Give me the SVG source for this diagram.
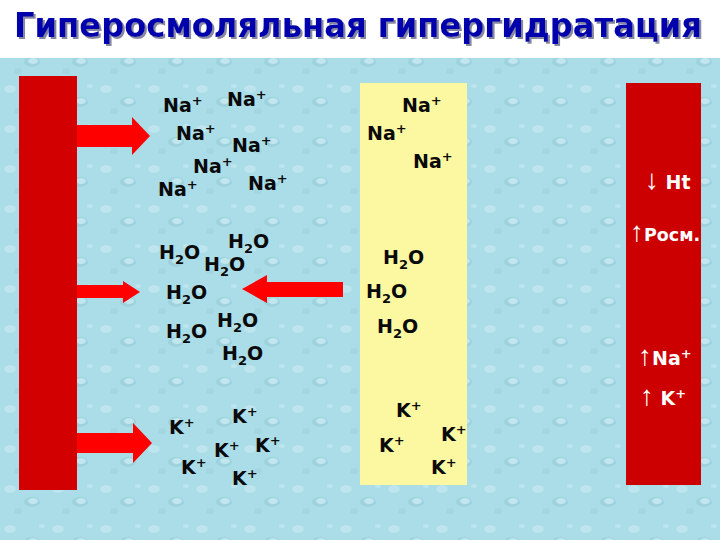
<svg xmlns="http://www.w3.org/2000/svg" width="720" height="540" viewBox="0 0 720 540">
<defs>
<pattern id="drops" width="48" height="40" patternUnits="userSpaceOnUse">
<rect width="48" height="40" fill="#aadde7"/>
<ellipse cx="10" cy="9" rx="6" ry="4" fill="#bce5ed"/>
<ellipse cx="32" cy="22" rx="8" ry="5" fill="#9dd3de"/>
<ellipse cx="33" cy="21" rx="5" ry="3" fill="#c0e6ee"/>
<ellipse cx="18" cy="31" rx="4" ry="3" fill="#a2d6e1"/>
<ellipse cx="42" cy="6" rx="3" ry="2" fill="#bde5ed"/>
</pattern>
<filter id="shadow" x="-5%" y="-20%" width="110%" height="150%">
<feDropShadow dx="2" dy="2" stdDeviation="0.6" flood-color="#7a7a96" flood-opacity="0.9"/>
</filter>
</defs>
<style>
.t{font-family:"DejaVu Sans","Verdana",sans-serif;font-weight:bold;font-size:19px;fill:#0a0a0a}
.w{font-family:"DejaVu Sans","Verdana",sans-serif;font-weight:bold;font-size:19px;fill:#ffffff}
.ar{font-family:"Liberation Sans",sans-serif;font-weight:normal;font-size:28px}
.s{font-size:13px}
.arrow{fill:#ff0000}
.title{font-family:"DejaVu Sans","Liberation Sans",sans-serif;font-weight:bold;font-size:33px;fill:#0505ad}
</style>
<rect x="0" y="0" width="720" height="58" fill="#ffffff"/>
<rect x="0" y="58" width="720" height="482" fill="url(#drops)"/>
<g id="title">
<text class="title" x="14" y="37" textLength="688" lengthAdjust="spacingAndGlyphs" filter="url(#shadow)">Гиперосмоляльная гипергидратация</text>
</g>
<g id="left-bar"><rect x="19" y="76" width="58" height="414" fill="#d20000"/></g>
<g id="middle-box"><rect x="360" y="83" width="107" height="402" fill="#fcf8a2"/></g>
<g id="right-bar"><rect x="626" y="83" width="75" height="402" fill="#cc0000"/>
<text class="w" x="645" y="189"><tspan class="ar">↓</tspan> Ht</text>
<text class="w" x="630" y="241"><tspan class="ar">↑</tspan><tspan font-size="17.5">Росм.</tspan></text>
<text class="w" x="638" y="365"><tspan class="ar">↑</tspan>Na<tspan class="s" dy="-7">+</tspan></text>
<text class="w" x="640" y="405"><tspan class="ar">↑</tspan> K<tspan class="s" dy="-7">+</tspan></text>
</g>
<g id="connectors">
<polygon class="arrow" points="77,125 132,125 132,117 150,136 132,155 132,147 77,147"/>
<polygon class="arrow" points="77,285 123,285 123,281 140,292 123,303 123,298 77,298"/>
<polygon class="arrow" points="343,282 267,282 267,275 242,289 267,303 267,297 343,297"/>
<polygon class="arrow" points="77,433 133,433 133,423 152,443 133,463 133,453 77,453"/>
</g>
<g id="na-left">
<text class="t" x="163" y="112">Na<tspan class="s" dy="-7">+</tspan></text>
<text class="t" x="227" y="106">Na<tspan class="s" dy="-7">+</tspan></text>
<text class="t" x="176" y="140">Na<tspan class="s" dy="-7">+</tspan></text>
<text class="t" x="232" y="152">Na<tspan class="s" dy="-7">+</tspan></text>
<text class="t" x="193" y="173">Na<tspan class="s" dy="-7">+</tspan></text>
<text class="t" x="158" y="196">Na<tspan class="s" dy="-7">+</tspan></text>
<text class="t" x="248" y="190">Na<tspan class="s" dy="-7">+</tspan></text>
</g>
<g id="h2o-left">
<text class="t" x="159" y="259">H<tspan class="s" dy="5">2</tspan><tspan dy="-5">O</tspan></text>
<text class="t" x="228" y="248">H<tspan class="s" dy="5">2</tspan><tspan dy="-5">O</tspan></text>
<text class="t" x="204" y="271">H<tspan class="s" dy="5">2</tspan><tspan dy="-5">O</tspan></text>
<text class="t" x="166" y="299">H<tspan class="s" dy="5">2</tspan><tspan dy="-5">O</tspan></text>
<text class="t" x="217" y="327">H<tspan class="s" dy="5">2</tspan><tspan dy="-5">O</tspan></text>
<text class="t" x="166" y="338">H<tspan class="s" dy="5">2</tspan><tspan dy="-5">O</tspan></text>
<text class="t" x="222" y="360">H<tspan class="s" dy="5">2</tspan><tspan dy="-5">O</tspan></text>
</g>
<g id="k-left">
<text class="t" x="169" y="434">K<tspan class="s" dy="-7">+</tspan></text>
<text class="t" x="232" y="423">K<tspan class="s" dy="-7">+</tspan></text>
<text class="t" x="214" y="457">K<tspan class="s" dy="-7">+</tspan></text>
<text class="t" x="255" y="452">K<tspan class="s" dy="-7">+</tspan></text>
<text class="t" x="181" y="474">K<tspan class="s" dy="-7">+</tspan></text>
<text class="t" x="232" y="485">K<tspan class="s" dy="-7">+</tspan></text>
</g>
<g id="middle-labels">
<text class="t" x="402" y="112">Na<tspan class="s" dy="-7">+</tspan></text>
<text class="t" x="367" y="140">Na<tspan class="s" dy="-7">+</tspan></text>
<text class="t" x="413" y="168">Na<tspan class="s" dy="-7">+</tspan></text>
<text class="t" x="383" y="264">H<tspan class="s" dy="5">2</tspan><tspan dy="-5">O</tspan></text>
<text class="t" x="366" y="298">H<tspan class="s" dy="5">2</tspan><tspan dy="-5">O</tspan></text>
<text class="t" x="377" y="333">H<tspan class="s" dy="5">2</tspan><tspan dy="-5">O</tspan></text>
<text class="t" x="396" y="417">K<tspan class="s" dy="-7">+</tspan></text>
<text class="t" x="379" y="452">K<tspan class="s" dy="-7">+</tspan></text>
<text class="t" x="441" y="441">K<tspan class="s" dy="-7">+</tspan></text>
<text class="t" x="431" y="474">K<tspan class="s" dy="-7">+</tspan></text>
</g>
</svg>
